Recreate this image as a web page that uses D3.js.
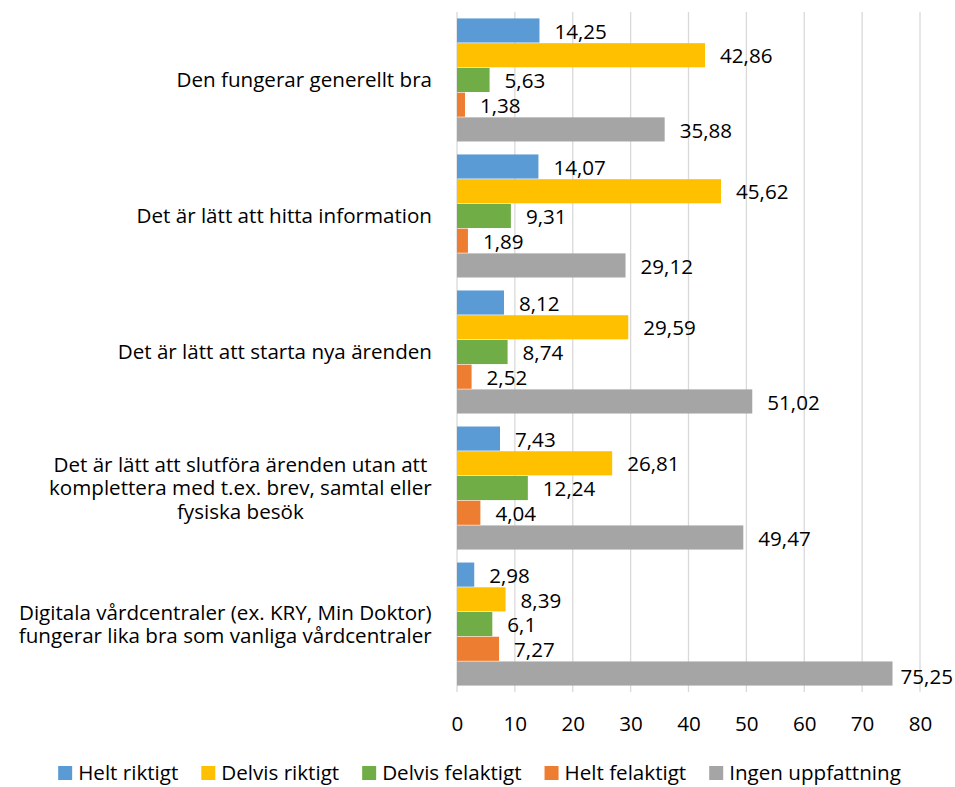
<!DOCTYPE html>
<html>
<head>
<meta charset="utf-8">
<script src="https://cdn.jsdelivr.net/npm/d3@7"></script>
<style>
  body { margin: 0; background: #fff; }
  text { font-family: "Open Sans", "Liberation Sans", sans-serif; fill: #000; }
</style>
</head>
<body>
<div id="chart"></div>
<script>
// categories (line breaks as in the original chart)
var categories = [
  "Den fungerar generellt bra",
  "Det är lätt att hitta information",
  "Det är lätt att starta nya ärenden",
  "Det är lätt att slutföra ärenden utan att\nkomplettera med t.ex. brev, samtal eller\nfysiska besök",
  "Digitala vårdcentraler (ex. KRY, Min Doktor)\nfungerar lika bra som vanliga vårdcentraler"
];
var seriesNames = ["Helt riktigt", "Delvis riktigt", "Delvis felaktigt", "Helt felaktigt", "Ingen uppfattning"];
var colours = ["#5B9BD5", "#FFC000", "#70AD47", "#ED7D31", "#A5A5A5"];

// one array per series, in category order
var heltRiktigt      = [14.25, 14.07, 8.12, 7.43, 2.98];
var delvisRiktigt    = [42.86, 45.62, 29.59, 26.81, 8.39];
var delvisFelaktigt  = [5.63, 9.31, 8.74, 12.24, 6.1];
var heltFelaktigt    = [1.38, 1.89, 2.52, 4.04, 7.27];
var ingenUppfattning = [35.88, 29.12, 51.02, 49.47, 75.25];
var xTicks = [0, 10, 20, 30, 40, 50, 60, 70, 80];

var series = [heltRiktigt, delvisRiktigt, delvisFelaktigt, heltFelaktigt, ingenUppfattning];

var width = 955, height = 787;
var margin = {top: 12, right: 35, bottom: 95, left: 457};
var fontSize = "20.6px";

var svg = d3.select("#chart").append("svg")
    .attr("width", width)
    .attr("height", height);

// scales
var x = d3.scaleLinear().domain([0, 80]).range([margin.left, width - margin.right]);
var y0 = d3.scaleBand().domain(d3.range(categories.length))
    .range([margin.top, height - margin.bottom]).paddingInner(0.091).paddingOuter(0.045);
var y1 = d3.scaleBand().domain(d3.range(seriesNames.length)).range([0, y0.bandwidth()]);

// gridlines
svg.append("g").selectAll("line")
    .data(xTicks)
  .enter().append("line")
    .attr("x1", function(d) { return x(d); })
    .attr("x2", function(d) { return x(d); })
    .attr("y1", margin.top)
    .attr("y2", height - margin.bottom)
    .attr("stroke", "#D9D9D9")
    .attr("stroke-width", 1.3);

// x axis labels
svg.append("g")
    .attr("transform", "translate(0," + (height - margin.bottom) + ")")
    .call(d3.axisBottom(x).tickValues(xTicks).tickSize(0).tickPadding(24))
    .call(function(g) { g.select(".domain").remove(); })
    .selectAll("text")
    .style("font-family", "'Open Sans', 'Liberation Sans', sans-serif")
    .style("font-size", fontSize);

// bars
var groups = svg.selectAll(".group")
    .data(categories)
  .enter().append("g")
    .attr("transform", function(d, i) { return "translate(0," + y0(i) + ")"; });

groups.each(function(c, ci) {
  var g = d3.select(this);
  series.forEach(function(s, si) {
    g.append("rect")
      .attr("x", x(0))
      .attr("y", y1(si) + 0.3)
      .attr("width", x(s[ci]) - x(0))
      .attr("height", y1.bandwidth() - 0.6)
      .attr("fill", colours[si]);
    var lbl = g.append("text")
      .attr("x", x(s[ci]) + 15)
      .attr("y", y1(si) + y1.bandwidth() / 2 + 1)
      .attr("dy", "0.35em")
      .style("font-size", fontSize)
      .text(String(s[ci]).replace(".", ","));
    // keep labels inside the chart area, like Excel does
    var tw = lbl.node().getComputedTextLength();
    if (x(s[ci]) + 15 + tw > width - 2) {
      lbl.attr("x", width - 2 - tw).attr("y", y1(si) + y1.bandwidth() / 2 + 3);
    }
  });
});

// category labels
var lineH = 23.5;
groups.each(function(c, ci) {
  var lines = c.split("\n");
  var t = d3.select(this).append("text")
    .attr("text-anchor", "middle")
    .style("font-size", fontSize);
  lines.forEach(function(l, li) {
    t.append("tspan")
      .attr("x", 0)
      .attr("y", y0.bandwidth() / 2 + (li - (lines.length - 1) / 2) * lineH)
      .attr("dy", "0.35em")
      .text(l);
  });
  var w = t.node().getBBox().width;
  t.selectAll("tspan").attr("x", 432 - w / 2);
});

// legend
var legend = svg.append("g");
var lx = 0, gap = 23;
var items = legend.selectAll(".item")
    .data(seriesNames)
  .enter().append("g");
items.append("rect")
    .attr("x", 0).attr("y", -7)
    .attr("width", 14).attr("height", 14)
    .attr("fill", function(d, i) { return colours[i]; });
items.append("text")
    .attr("x", 20)
    .attr("dy", "0.35em")
    .style("font-size", fontSize)
    .text(function(d) { return d; });
items.each(function() {
  var w = this.getBBox().width;
  d3.select(this).attr("transform", "translate(" + lx + ",0)");
  lx += w + gap;
});
var total = lx - gap;
legend.attr("transform", "translate(" + ((width - total) / 2 + 2) + ",773)");
</script>
</body>
</html>
